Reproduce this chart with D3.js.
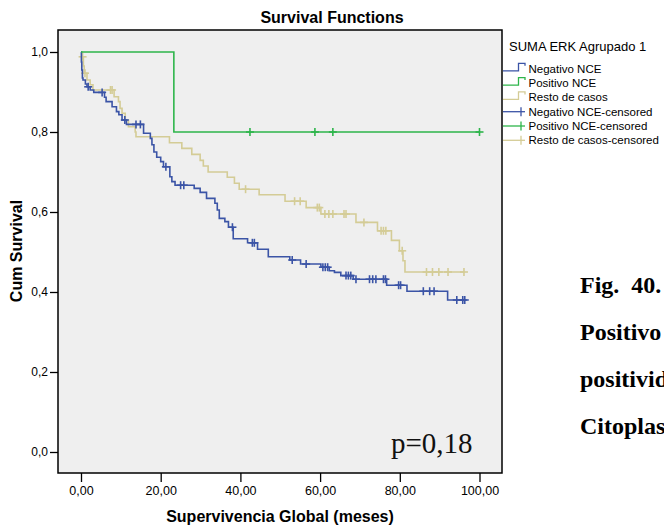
<!DOCTYPE html>
<html>
<head>
<meta charset="utf-8">
<script src="https://cdn.jsdelivr.net/npm/d3@7"></script>
<style>
  html, body { margin: 0; padding: 0; background: #fff; overflow: hidden; }
  svg { display: block; }
</style>
</head>
<body>
<svg id="chart" width="664" height="526"></svg>
<script>
// Kaplan-Meier estimates by SUMA ERK group.
// eventT: months at which the estimate drops; surv: survival after that drop; censT: censored times.
const groupNames = ["Negativo NCE", "Positivo NCE", "Resto de casos"];

const negEventT = [0.1, 0.2, 0.35, 0.5, 1.1, 1.5, 2.3, 3.2, 5.9, 6.3, 7.8, 8.9, 9.5, 10.3, 11.4,
  15.7, 17.4, 17.8, 18.3, 19.0, 20.0, 20.7, 22.3, 22.8, 23.6, 28.4, 29.9, 31.5, 33.6, 34.2, 34.7,
  36.1, 37.0, 38.2, 41.8, 44.3, 47.0, 52.4, 55.1, 60.2, 62.3, 63.6, 65.2, 68.3, 76.7, 81.8, 92.0];
const negSurv = [0.975, 0.955, 0.935, 0.93, 0.92, 0.913, 0.905, 0.899, 0.887, 0.876, 0.863, 0.851, 0.843, 0.83, 0.819,
  0.797, 0.784, 0.768, 0.75, 0.737, 0.726, 0.713, 0.688, 0.676, 0.667, 0.659, 0.649, 0.634, 0.622, 0.605, 0.584,
  0.576, 0.562, 0.533, 0.523, 0.507, 0.488, 0.48, 0.47, 0.462, 0.453, 0.449, 0.441, 0.432, 0.417, 0.402, 0.38];
const negCensT = [1.8, 5.3, 11.0, 13.8, 14.9, 21.3, 25.0, 25.8, 38.0, 43.0, 43.5, 53.0, 56.5, 60.7, 61.3, 61.9,
  66.5, 67.1, 67.7, 69.0, 72.4, 73.2, 74.0, 75.9, 76.4, 79.7, 80.2, 85.9, 87.5, 88.6, 94.3, 95.8, 96.3];

const posEventT = [23.3];
const posSurv = [0.8];
const posCensT = [42.4, 58.7, 63.2, 100.0];

const restEventT = [0.25, 0.6, 0.8, 1.5, 2.3, 3.0, 8.3, 9.4, 9.8, 10.3, 11.1, 11.9, 13.6, 13.8, 22.2, 25.3,
  27.8, 29.9, 30.7, 31.9, 36.7, 38.5, 39.7, 44.7, 51.2, 56.5, 60.2, 69.0, 74.4, 77.9, 79.9, 80.8, 81.3];
const restSurv = [0.988, 0.965, 0.947, 0.93, 0.918, 0.905, 0.888, 0.876, 0.859, 0.847, 0.83, 0.813, 0.80, 0.788, 0.773, 0.759,
  0.744, 0.729, 0.715, 0.70, 0.687, 0.672, 0.657, 0.643, 0.627, 0.611, 0.595, 0.574, 0.553, 0.529, 0.503, 0.478, 0.45];
const restCensT = [0.4, 1.0, 7.4, 7.8, 41.3, 53.6, 55.0, 59.3, 59.8, 61.2, 62.2, 63.2, 66.0, 66.5, 71.0,
  75.3, 75.9, 76.5, 80.6, 86.7, 88.2, 89.8, 92.1, 96.1];

const xTicks = [0, 20, 40, 60, 80, 100];
const xTickLabels = ["0,00", "20,00", "40,00", "60,00", "80,00", "100,00"];
const yTicks = [0, 0.2, 0.4, 0.6, 0.8, 1.0];
const yTickLabels = ["0,0", "0,2", "0,4", "0,6", "0,8", "1,0"];

const legendTitle = "SUMA ERK Agrupado 1";
const pValueText = "p=0,18";
const sideLines = ["Fig.  40.", "Positivo", "positividad", "Citoplasma"];

// ---- layout ----
const sans = "'Liberation Sans', Arial, sans-serif";
const serif = "'Liberation Serif', 'Times New Roman', serif";
const colors = { neg: "#3b54a6", pos: "#2eb54b", rest: "#d4cc96" };
const frame = { left: 58, right: 502, top: 30, bottom: 473 };

const svg = d3.select("#chart");

const x = d3.scaleLinear().domain([0, 100]).range([81, 479.5]);
const y = d3.scaleLinear().domain([0, 1]).range([452, 52]);

// title
svg.append("text")
  .attr("x", 332).attr("y", 22.5)
  .attr("text-anchor", "middle")
  .attr("font-family", sans).attr("font-weight", "bold").attr("font-size", 16)
  .text("Survival Functions");

// plot background and frame
svg.append("rect")
  .attr("x", frame.left).attr("y", frame.top)
  .attr("width", frame.right - frame.left).attr("height", frame.bottom - frame.top)
  .attr("fill", "#efefef").attr("stroke", "#000").attr("stroke-width", 1.5);

// y axis ticks
const yAxis = d3.axisLeft(y).tickValues(yTicks).tickSize(8).tickPadding(2)
  .tickFormat((d, i) => yTickLabels[i]);
const gy = svg.append("g").attr("transform", `translate(${frame.left},0)`).call(yAxis);
gy.select(".domain").remove();
gy.selectAll("line").attr("stroke", "#000").attr("stroke-width", 1.3);
gy.selectAll("text").attr("font-family", sans).attr("font-size", 12).attr("fill", "#000");

// x axis ticks
const xAxis = d3.axisBottom(x).tickValues(xTicks).tickSize(9).tickPadding(4)
  .tickFormat((d, i) => xTickLabels[i]);
const gx = svg.append("g").attr("transform", `translate(0,${frame.bottom})`).call(xAxis);
gx.select(".domain").remove();
gx.selectAll("line").attr("stroke", "#000").attr("stroke-width", 1.3);
gx.selectAll("text").attr("font-family", sans).attr("font-size", 12.5).attr("fill", "#000");

// axis titles
svg.append("text")
  .attr("x", 280).attr("y", 522)
  .attr("text-anchor", "middle")
  .attr("font-family", sans).attr("font-weight", "bold").attr("font-size", 16)
  .text("Supervivencia Global (meses)");
svg.append("text")
  .attr("transform", "translate(21.5,251) rotate(-90)")
  .attr("text-anchor", "middle")
  .attr("font-family", sans).attr("font-weight", "bold").attr("font-size", 16)
  .text("Cum Survival");

// ---- survival curves ----
function buildGroup(eventT, surv, censT) {
  const pts = [[0, 1]];
  eventT.forEach((t, i) => pts.push([t, surv[i]]));
  const tEnd = Math.max(d3.max(eventT), d3.max(censT));
  pts.push([tEnd, surv[surv.length - 1]]);
  const survAt = t => {
    const i = d3.bisectRight(eventT, t);
    return i === 0 ? 1 : surv[i - 1];
  };
  const cens = censT.map(t => [t, survAt(t)]);
  return { pts, cens };
}

const groups = [
  { key: "rest", data: buildGroup(restEventT, restSurv, restCensT) },
  { key: "neg", data: buildGroup(negEventT, negSurv, negCensT) },
  { key: "pos", data: buildGroup(posEventT, posSurv, posCensT) }
];

const stepLine = d3.line().x(d => x(d[0])).y(d => y(d[1])).curve(d3.curveStepAfter);
const arm = 4;

groups.forEach(g => {
  const layer = svg.append("g");
  layer.append("path")
    .attr("d", stepLine(g.data.pts))
    .attr("fill", "none")
    .attr("stroke", colors[g.key])
    .attr("stroke-width", 1.6);
  const marks = layer.selectAll("g.cens").data(g.data.cens).join("g")
    .attr("transform", d => `translate(${x(d[0])},${y(d[1])})`);
  marks.append("line").attr("x1", -arm).attr("x2", arm).attr("y1", 0).attr("y2", 0)
    .attr("stroke", colors[g.key]).attr("stroke-width", 1.6);
  marks.append("line").attr("x1", 0).attr("x2", 0).attr("y1", -arm).attr("y2", arm)
    .attr("stroke", colors[g.key]).attr("stroke-width", 1.6);
});

// p-value
svg.append("text")
  .attr("x", 391).attr("y", 453)
  .attr("font-family", serif).attr("font-size", 29).attr("fill", "#111")
  .text(pValueText);

// ---- legend ----
svg.append("text")
  .attr("x", 509).attr("y", 50.5)
  .attr("font-family", sans).attr("font-size", 13).attr("fill", "#000")
  .text(legendTitle);

const legendItems = [
  { label: groupNames[0], key: "neg", censored: false },
  { label: groupNames[1], key: "pos", censored: false },
  { label: groupNames[2], key: "rest", censored: false },
  { label: groupNames[0] + "-censored", key: "neg", censored: true },
  { label: groupNames[1] + "-censored", key: "pos", censored: true },
  { label: groupNames[2] + "-censored", key: "rest", censored: true }
];

const legend = svg.append("g");
legendItems.forEach((it, i) => {
  const cy = 68.8 + i * 14.3;
  const g = legend.append("g");
  if (!it.censored) {
    g.append("path")
      .attr("d", `M503,${cy + 2}H518.5V${cy - 5.5}H525V${cy - 3}`)
      .attr("fill", "none").attr("stroke", colors[it.key]).attr("stroke-width", 1.3);
  } else {
    g.append("line").attr("x1", 503).attr("x2", 525).attr("y1", cy).attr("y2", cy)
      .attr("stroke", colors[it.key]).attr("stroke-width", 1.3);
    g.append("line").attr("x1", 521).attr("x2", 521).attr("y1", cy - 4.5).attr("y2", cy + 4.5)
      .attr("stroke", colors[it.key]).attr("stroke-width", 1.3);
  }
  g.append("text")
    .attr("x", 528.5).attr("y", cy + 4)
    .attr("font-family", sans).attr("font-size", 11.5).attr("fill", "#000")
    .text(it.label);
});

// caption beside the chart
sideLines.forEach((s, i) => {
  svg.append("text")
    .attr("x", 580).attr("y", 293 + i * 47)
    .attr("font-family", serif).attr("font-weight", "bold").attr("font-size", 24)
    .attr("fill", "#000")
    .style("white-space", "pre")
    .text(s);
});
</script>
</body>
</html>
